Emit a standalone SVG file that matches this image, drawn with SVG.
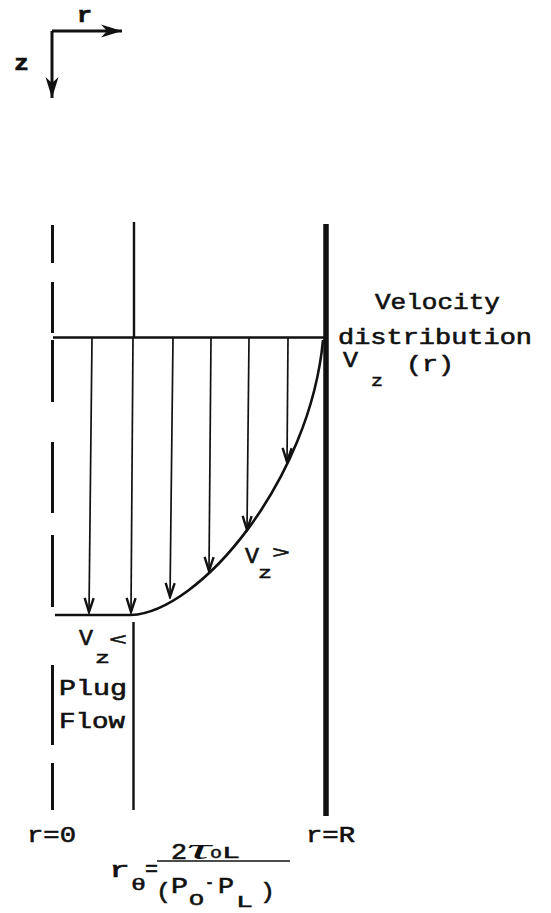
<svg xmlns="http://www.w3.org/2000/svg" width="551" height="913" viewBox="0 0 551 913">
<style>
.t{font-family:"Liberation Mono","Courier New",monospace;font-size:22px;fill:#111;stroke:#111;stroke-width:0.6}
.tb{font-family:"Liberation Mono","Courier New",monospace;font-size:22px;font-weight:bold;fill:#111;stroke:#111;stroke-width:0.6}
.s{font-family:"Liberation Mono","Courier New",monospace;font-size:17px;fill:#111;stroke:#111;stroke-width:0.5}
.ln{stroke:#111;fill:none;stroke-linecap:butt}
.arr{stroke:#111;stroke-width:1.7;fill:none;marker-end:url(#vh)}
</style>
<defs>
<marker id="vh" viewBox="-16 -7 18 14" refX="0" refY="0" markerWidth="18" markerHeight="14" markerUnits="userSpaceOnUse" orient="auto">
<path d="M-14,-4.5 L0,0 L-14,4.5" fill="none" stroke="#111" stroke-width="2.4"/>
</marker>
<marker id="ax" viewBox="-24 -8 26 16" refX="0" refY="0" markerWidth="26" markerHeight="16" markerUnits="userSpaceOnUse" orient="auto">
<path d="M-21,-6.5 L0,0 L-21,6.5 L-15,0 Z" fill="#111"/>
</marker>
</defs>
<rect width="551" height="913" fill="#fff"/>

<g id="axes">
<path class="ln" d="M52,31 H122" stroke-width="3" marker-end="url(#ax)"/>
<path class="ln" d="M52,31 V98" stroke-width="3" marker-end="url(#ax)"/>
<text class="tb" x="77" y="22" textLength="15" lengthAdjust="spacingAndGlyphs">r</text>
<text class="tb" x="14" y="70" textLength="15" lengthAdjust="spacingAndGlyphs">z</text>
</g>

<g id="centerline">
<path class="ln" stroke-width="3" d="M52.5,225 V263 M52.5,282 V333 M52.5,340 V402 M52.5,442 V513 M52.5,535 V607 M52.5,665 V745 M52.5,763 V810"/>
</g>

<g id="plug-boundary">
<path class="ln" stroke-width="2.4" d="M134,222 V337 M133.5,622 V810"/>
</g>

<g id="wall">
<path class="ln" stroke-width="5.5" stroke-linecap="round" d="M326,224 V816"/>
</g>

<g id="profile">
<path class="ln" stroke-width="2.6" d="M53,337.5 H324"/>
<path class="ln" stroke-width="2.6" d="M55,615 H131"/>
<path class="ln" stroke-width="2.6" d="M131,615 C200,612 310,480 323,340"/>
</g>

<g id="connectors">
<path class="arr" d="M92,338 L89,612"/>
<path class="arr" d="M133,338 L131,612"/>
<path class="arr" d="M173,338 L170,597"/>
<path class="arr" d="M211,338 L209,571"/>
<path class="arr" d="M249,338 L247,530"/>
<path class="arr" d="M288,338 L287,462"/>
</g>

<g id="label-velocity">
<text class="t" x="375" y="309" textLength="125" lengthAdjust="spacingAndGlyphs">Velocity</text>
<text class="t" x="338" y="344" textLength="194" lengthAdjust="spacingAndGlyphs">distribution</text>
<text class="t" x="343" y="367" textLength="15" lengthAdjust="spacingAndGlyphs">V</text>
<text class="s" x="371" y="386" textLength="12" lengthAdjust="spacingAndGlyphs">z</text>
<text class="t" x="406" y="371" textLength="48" lengthAdjust="spacingAndGlyphs">(r)</text>
</g>

<g id="label-vz-gt">
<text class="t" x="245" y="563" textLength="14" lengthAdjust="spacingAndGlyphs">V</text>
<text class="s" x="258" y="578" textLength="14" lengthAdjust="spacingAndGlyphs">z</text>
<text class="s" x="272" y="558" textLength="18" lengthAdjust="spacingAndGlyphs">&gt;</text>
</g>

<g id="label-plug">
<text class="t" x="79" y="645" textLength="14" lengthAdjust="spacingAndGlyphs">V</text>
<text class="s" x="95" y="663" textLength="15" lengthAdjust="spacingAndGlyphs">z</text>
<text class="s" x="109" y="645" textLength="18" lengthAdjust="spacingAndGlyphs">&lt;</text>
<text class="t" x="59" y="695" textLength="68" lengthAdjust="spacingAndGlyphs">Plug</text>
<text class="t" x="59" y="728" textLength="66" lengthAdjust="spacingAndGlyphs">Flow</text>
</g>

<g id="label-r0">
<text class="t" x="27" y="842" textLength="49" lengthAdjust="spacingAndGlyphs">r=0</text>
</g>
<g id="label-rR">
<text class="t" x="306" y="842" textLength="49" lengthAdjust="spacingAndGlyphs">r=R</text>
</g>

<g id="label-r-theta">
<text class="t" x="109" y="877" textLength="21" lengthAdjust="spacingAndGlyphs">r</text>
<text class="s" x="131" y="890" textLength="15" lengthAdjust="spacingAndGlyphs">θ</text>
<text class="t" x="145" y="876" textLength="13" lengthAdjust="spacingAndGlyphs">=</text>
<path class="ln" stroke-width="1.6" d="M157,861 H290"/>
<text class="t" x="171" y="859" textLength="16" lengthAdjust="spacingAndGlyphs">2</text>
<text x="187" y="859" font-family="Liberation Serif,serif" font-style="italic" font-size="30" fill="#111" textLength="24" lengthAdjust="spacingAndGlyphs">τ</text>
<text class="s" x="210" y="858" textLength="12" lengthAdjust="spacingAndGlyphs">o</text>
<text class="s" x="222" y="858" textLength="18" lengthAdjust="spacingAndGlyphs">L</text>
<text class="t" x="156" y="898" font-size="26" textLength="15" lengthAdjust="spacingAndGlyphs">(</text>
<text class="t" x="171" y="893" textLength="17" lengthAdjust="spacingAndGlyphs">P</text>
<text class="s" x="189" y="905" textLength="15" lengthAdjust="spacingAndGlyphs">O</text>
<text class="t" x="205" y="889" textLength="9" lengthAdjust="spacingAndGlyphs">-</text>
<text class="t" x="218" y="893" textLength="16" lengthAdjust="spacingAndGlyphs">P</text>
<text class="s" x="236" y="907" textLength="17" lengthAdjust="spacingAndGlyphs">L</text>
<text class="t" x="260" y="898" font-size="26" textLength="15" lengthAdjust="spacingAndGlyphs">)</text>
</g>
</svg>
